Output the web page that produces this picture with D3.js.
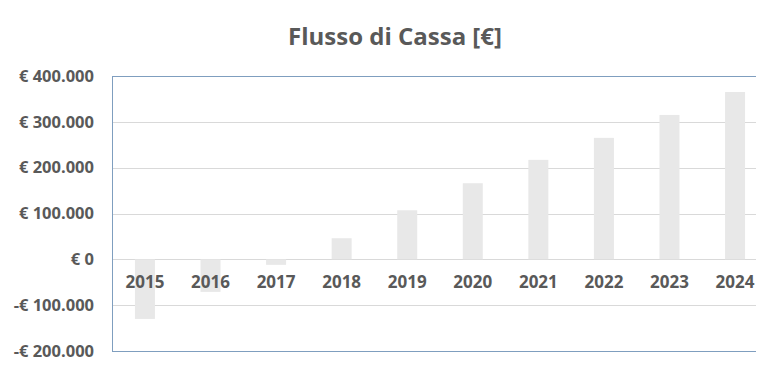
<!DOCTYPE html>
<meta charset="utf-8">
<head>
    <title>Flusso di Cassa</title>
    <style>
        body { margin: 0; background: #fff; }
        text { font-family: "Open Sans", "Liberation Sans", sans-serif; fill: #595959; }
    </style>
</head>
<body>
    <script src="https://d3js.org/d3.v7.min.js"></script>
    <script>
        // data
        var years = ["2015", "2016", "2017", "2018", "2019", "2020", "2021", "2022", "2023", "2024"];
        var cashFlow = [-130000, -71000, -12000, 46000, 107000, 166000, 217000, 265000, 315000, 365000];
        var yTicks = [-200000, -100000, 0, 100000, 200000, 300000, 400000];

        var margin = { top: 76, right: 18, bottom: 17, left: 112 },
            width = 774 - margin.left - margin.right,
            height = 368 - margin.top - margin.bottom;
        // the category bands run a little past the visible frame (chart was cropped on the right)
        var bandWidth = 656;

        var svg = d3.select("body")
            .append("svg")
            .attr("width", 774)
            .attr("height", 368);

        svg.append("text")
            .text("Flusso di Cassa [€]")
            .attr("x", 395)
            .attr("y", 45)
            .attr("text-anchor", "middle")
            .style("font-size", "24px")
            .style("font-weight", "bold");

        var g = svg.append("g")
            .attr("transform", "translate(" + margin.left + "," + margin.top + ")");

        var x = d3.scaleBand().domain(years).range([0, bandWidth]).paddingInner(0.695).paddingOuter(0.35);
        var y = d3.scaleLinear().domain([-200000, 400000]).range([height, 0]);

        var fmt = function (d) {
            var s = d3.format(",")(Math.abs(d)).replace(/,/g, ".");
            return (d < 0 ? "-€ " : "€ ") + s;
        };

        // gridlines
        g.selectAll(".grid")
            .data(yTicks)
            .enter().append("line")
            .attr("x1", 0)
            .attr("x2", width)
            .attr("y1", d => Math.round(y(d)) + 0.5)
            .attr("y2", d => Math.round(y(d)) + 0.5)
            .style("stroke", "#d9d9d9")
            .style("stroke-width", 1);

        // bars
        g.selectAll(".bar")
            .data(cashFlow)
            .enter().append("rect")
            .attr("x", (d, i) => x(years[i]))
            .attr("width", x.bandwidth())
            .attr("y", d => y(Math.max(0, d)))
            .attr("height", d => Math.abs(y(d) - y(0)))
            .style("fill", "#e8e8e8");

        // frame: top, bottom, left
        var frame = "#7f9ebf";
        g.append("line").attr("x1", 0).attr("x2", width).attr("y1", 0.5).attr("y2", 0.5).style("stroke", frame);
        g.append("line").attr("x1", 0).attr("x2", width).attr("y1", height + 0.5).attr("y2", height + 0.5).style("stroke", frame);
        g.append("line").attr("x1", 0.5).attr("x2", 0.5).attr("y1", 0).attr("y2", height + 0.5).style("stroke", frame);

        // y axis labels
        var yAxis = d3.axisLeft(y).tickValues(yTicks).tickFormat(fmt).tickSize(0).tickPadding(18);
        var ya = g.append("g").call(yAxis);
        ya.select(".domain").remove();
        ya.selectAll("text")
            .style("font-size", "16.5px")
            .style("font-weight", "bold")
            .style("fill", "#595959")
            .style("font-family", "'Open Sans', sans-serif");

        // x labels just under the zero line
        var xAxis = d3.axisBottom(x).tickSize(0).tickPadding(17);
        var xa = g.append("g").attr("transform", "translate(0," + y(0) + ")").call(xAxis);
        xa.select(".domain").remove();
        xa.selectAll("text")
            .style("font-size", "17px")
            .style("font-weight", "bold")
            .style("fill", "#595959")
            .style("font-family", "'Open Sans', sans-serif");
    </script>
</body>
</html>
